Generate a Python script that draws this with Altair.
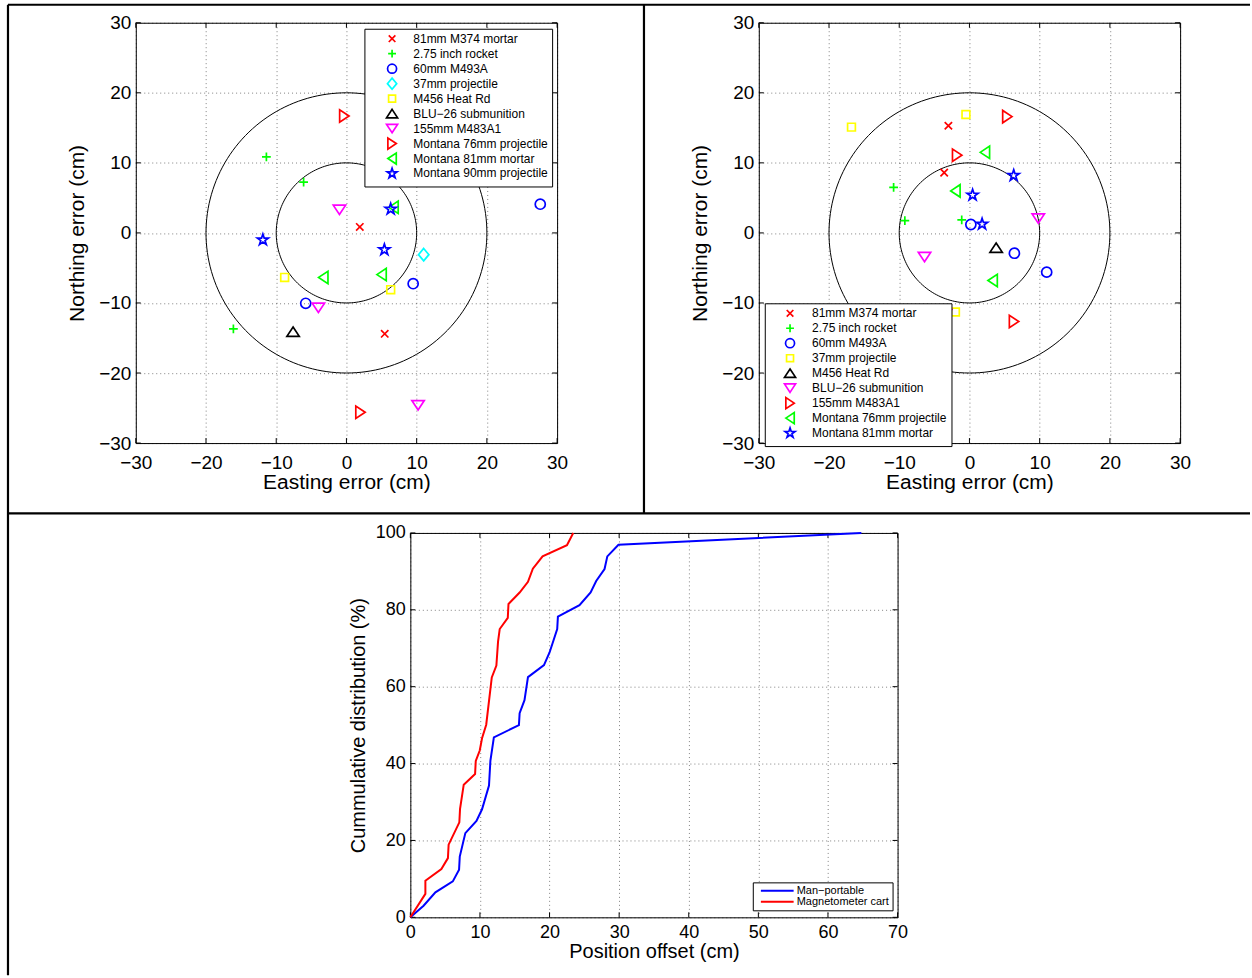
import math

import altair as alt
import pandas as pd

FONT = "Liberation Sans"

# ---------------------------------------------------------------- data
# Survey 1: position errors of the detected ordnance items (cm)
LEFT_LABELS = [
    "81mm M374 mortar", "2.75 inch rocket", "60mm M493A", "37mm projectile",
    "M456 Heat Rd", "BLU\u221226 submunition", "155mm M483A1",
    "Montana 76mm projectile", "Montana 81mm mortar", "Montana 90mm projectile",
]
LEFT_MARKERS = ["x", "plus", "circle", "diamond", "square", "up", "down", "right", "left", "star"]
LEFT_COLORS = ["#FF0000", "#00FF00", "#0000FF", "#00FFFF", "#FFFF00",
               "#000000", "#FF00FF", "#FF0000", "#00FF00", "#0000FF"]
LEFT_EAST = [
    [1.9, 5.45],
    [-11.4, -6.1, -16.1],
    [27.6, 9.5, -5.8],
    [11.0],
    [-8.8, 6.3],
    [-7.6],
    [-1.0, -4.0, 10.2],
    [-0.3, 2.0],
    [-3.3, 5.0, 6.7],
    [-11.9, 6.3, 5.4],
]
LEFT_NORTH = [
    [0.85, -14.4],
    [10.85, 7.25, -13.7],
    [4.1, -7.25, -10.05],
    [-3.1],
    [-6.35, -8.1],
    [-14.1],
    [3.3, -10.7, -24.6],
    [16.7, -25.6],
    [-6.35, -5.95, 3.65],
    [-1.0, 3.4, -2.4],
]

# Survey 2
RIGHT_LABELS = [
    "81mm M374 mortar", "2.75 inch rocket", "60mm M493A", "37mm projectile",
    "M456 Heat Rd", "BLU\u221226 submunition", "155mm M483A1",
    "Montana 76mm projectile", "Montana 81mm mortar",
]
RIGHT_MARKERS = ["x", "plus", "circle", "square", "up", "down", "right", "left", "star"]
RIGHT_COLORS = ["#FF0000", "#00FF00", "#0000FF", "#FFFF00", "#000000",
                "#FF00FF", "#FF0000", "#00FF00", "#0000FF"]
RIGHT_EAST = [
    [-3.0, -3.6],
    [-10.8, -9.2, -1.1],
    [0.2, 6.4, 11.0],
    [-16.8, -0.5, -2.0],
    [3.8],
    [-6.4, 9.8, -3.4],
    [5.4, -1.75, 6.35],
    [2.2, -2.0, 3.3],
    [6.3, 0.45, 1.8],
]
RIGHT_NORTH = [
    [15.3, 8.6],
    [6.5, 1.75, 1.85],
    [1.2, -2.9, -5.6],
    [15.1, 16.9, -11.3],
    [-2.1],
    [-3.45, 2.05, -11.6],
    [16.6, 11.1, -12.65],
    [11.5, 6.0, -6.8],
    [8.2, 5.4, 1.25],
]

RING_RADII = [10, 20]
ERR_TICKS = [-30, -20, -10, 0, 10, 20, 30]

# Cumulative distribution of position offsets
METHODS = ["Man\u2212portable", "Magnetometer cart"]
METHOD_COLORS = ["#0000FF", "#FF0000"]
MAN_OFFSET = [0, 1.9, 3.6, 6.1, 7.0, 7.1, 7.9, 9.5, 10.3, 11.3, 11.5, 12.0, 15.6, 15.7,
              16.4, 16.9, 19.2, 20.0, 21.1, 21.2, 24.3, 25.9, 26.7, 27.9, 28.3, 29.9, 64.8]
MAN_PCT = [0, 3.0, 6.5, 9.35, 12.4, 15.8, 21.9, 25.1, 28.1, 34.3, 40.7, 46.8, 50.0, 53.1,
           56.5, 62.5, 65.6, 68.9, 75.0, 78.2, 81.2, 84.5, 87.5, 90.6, 93.9, 96.9, 100]
CART_OFFSET = [0, 2.16, 2.16, 4.46, 5.4, 5.5, 7.04, 7.14, 7.67, 9.3, 9.4, 9.97, 10.3,
               10.9, 11.7, 12.36, 12.6, 12.84, 14.0, 14.1, 15.7, 16.9, 17.6, 19.0, 22.5, 23.4]
CART_PCT = [0, 6.1, 9.5, 12.55, 15.4, 18.9, 24.7, 28.2, 34.5, 37.3, 40.7, 43.4, 46.6,
            50.1, 62.4, 65.5, 71.7, 75.0, 77.9, 81.5, 84.5, 87.3, 90.7, 93.9, 96.8, 100]
OFFSET_TICKS = [0, 10, 20, 30, 40, 50, 60, 70]
PCT_TICKS = [0, 20, 40, 60, 80, 100]


# ---------------------------------------------------------------- marker outlines
def star_path(outer=1.17, inner=0.45):
    pts = []
    for k in range(10):
        r = outer if k % 2 == 0 else inner
        a = math.radians(-90 + 36 * k)
        pts.append(f"{r * math.cos(a):.3f},{r * math.sin(a):.3f}")
    return "M" + "L".join(pts) + "Z"


# outlines in symbol units: 1 unit = 5 px at MARKER_SIZE = 100
MARKER_OUTLINES = {
    "x": "M-0.74,-0.74L0.74,0.74M-0.74,0.74L0.74,-0.74",
    "plus": "M-0.88,0L0.88,0M0,-0.88L0,0.88",
    "circle": "M1.01,0A1.01,1.01 0 1 1 -1.01,0A1.01,1.01 0 1 1 1.01,0Z",
    "diamond": "M0,-1.24L1.04,0L0,1.24L-1.04,0Z",
    "square": "M-0.78,-0.78L0.78,-0.78L0.78,0.78L-0.78,0.78Z",
    "up": "M0,-0.94L1.24,0.94L-1.24,0.94Z",
    "down": "M0,0.94L1.24,-0.94L-1.24,-0.94Z",
    "right": "M0.94,0L-0.94,-1.24L-0.94,1.24Z",
    "left": "M-0.94,0L0.94,-1.24L0.94,1.24Z",
    "star": star_path(),
}
# two bare move-to points give every outline the same extent, so legend rows
# get one common height
MARKER_PATHS = {k: v + "M-1.25,-1.25M1.25,1.25" for k, v in MARKER_OUTLINES.items()}
MARKER_SIZE = 100
MARKER_STROKE = 1.7
LEGEND_SYMBOL_SIZE = 80

W_TOP, H_TOP = 422, 421
W_BOT, H_BOT = 488, 385
TICK_LEN = 5


def scatter_panel(labels, markers, colors, east, north, leg_x, leg_y, sym_off, lab_off, row_pad):
    rows = []
    for lab, xs, ys in zip(labels, east, north):
        for x, y in zip(xs, ys):
            rows.append({"series": lab, "east": x, "north": y})
    df = pd.DataFrame(rows)

    xscale = alt.Scale(domain=[-30, 30], nice=False, zero=False)
    yscale = alt.Scale(domain=[-30, 30], nice=False, zero=False)
    xaxis = alt.Axis(values=ERR_TICKS, title="Easting error (cm)", labelFontSize=19,
                     titleFontSize=21, labelPadding=10, titlePadding=0)
    yaxis = alt.Axis(values=ERR_TICKS, title="Northing error (cm)", labelFontSize=19,
                     titleFontSize=21, labelPadding=5, titlePadding=11)

    def X(f):
        return alt.X(f, scale=xscale, axis=xaxis)

    def Y(f):
        return alt.Y(f, scale=yscale, axis=yaxis)

    ring_rows = []
    for r in RING_RADII:
        for k in range(0, 361, 2):
            a = math.radians(k)
            ring_rows.append({"r": r, "k": k, "east": r * math.cos(a), "north": r * math.sin(a)})
    rings = alt.Chart(pd.DataFrame(ring_rows)).mark_line(color="black", strokeWidth=1).encode(
        x=X("east:Q"), y=Y("north:Q"), detail="r:N", order="k:Q"
    )

    legend = alt.Legend(
        title=None, orient="none", legendX=leg_x, legendY=leg_y,
        fillColor="white", strokeColor="black", padding=4, rowPadding=row_pad,
        symbolSize=LEGEND_SYMBOL_SIZE, symbolStrokeWidth=MARKER_STROKE,
        symbolOffset=sym_off, labelOffset=lab_off,
        labelFont=FONT, labelFontSize=12, labelColor="black", labelLimit=400,
    )
    points = alt.Chart(df).mark_point(
        filled=False, size=MARKER_SIZE, strokeWidth=MARKER_STROKE, opacity=1
    ).encode(
        x=X("east:Q"),
        y=Y("north:Q"),
        shape=alt.Shape("series:N", sort=labels,
                        scale=alt.Scale(domain=labels, range=[MARKER_PATHS[m] for m in markers]),
                        legend=legend),
        color=alt.Color("series:N", sort=labels,
                        scale=alt.Scale(domain=labels, range=colors), legend=legend),
    )

    tdf = pd.DataFrame({"v": ERR_TICKS})
    tick_base = alt.Chart(tdf).mark_rule(color="black", strokeWidth=1)
    ticks = [
        tick_base.encode(x=X("v:Q"), y=alt.value(H_TOP), y2=alt.value(H_TOP - TICK_LEN)),
        tick_base.encode(x=X("v:Q"), y=alt.value(0), y2=alt.value(TICK_LEN)),
        tick_base.encode(y=Y("v:Q"), x=alt.value(0), x2=alt.value(TICK_LEN)),
        tick_base.encode(y=Y("v:Q"), x=alt.value(W_TOP), x2=alt.value(W_TOP - TICK_LEN)),
    ]
    return [rings, *ticks, points]


left_layers = scatter_panel(LEFT_LABELS, LEFT_MARKERS, LEFT_COLORS, LEFT_EAST, LEFT_NORTH,
                            229, 6, 17.7, 15.3, -6.7)
right_layers = scatter_panel(RIGHT_LABELS, RIGHT_MARKERS, RIGHT_COLORS, RIGHT_EAST, RIGHT_NORTH,
                             6, 281, 15.3, 16, -6.5)

# panel separators of the figure sheet
one = pd.DataFrame({"z": [0]})
frame_rule = alt.Chart(one).mark_rule(color="black", strokeWidth=2.2)
frame = [
    frame_rule.encode(x=alt.value(-128), x2=alt.value(1116), y=alt.value(-18)),
    frame_rule.encode(x=alt.value(-128), y=alt.value(-18), y2=alt.value(954)),
    frame_rule.encode(x=alt.value(509), y=alt.value(-18), y2=alt.value(491.5)),
    frame_rule.encode(x=alt.value(-128), x2=alt.value(1116), y=alt.value(491.5)),
]

left = alt.layer(*frame, *left_layers).properties(width=W_TOP, height=H_TOP)
right = alt.layer(*right_layers).properties(width=W_TOP, height=H_TOP)

# ---------------------------------------------------------------- CDF panel
cdf_rows = []
for name, xs, ys in [(METHODS[0], MAN_OFFSET, MAN_PCT), (METHODS[1], CART_OFFSET, CART_PCT)]:
    for i, (x, y) in enumerate(zip(xs, ys)):
        cdf_rows.append({"method": name, "offset": x, "pct": y, "i": i})
cdf_df = pd.DataFrame(cdf_rows)

bx_scale = alt.Scale(domain=[0, 70], nice=False, zero=False)
by_scale = alt.Scale(domain=[0, 100], nice=False, zero=False)
bx_axis = alt.Axis(values=OFFSET_TICKS, title="Position offset (cm)", labelFontSize=18,
                   titleFontSize=20, labelPadding=6, titlePadding=0)
by_axis = alt.Axis(values=PCT_TICKS, title="Cummulative distribution (%)", labelFontSize=18,
                   titleFontSize=20, labelPadding=5, titlePadding=7)


def BX(f):
    return alt.X(f, scale=bx_scale, axis=bx_axis)


def BY(f):
    return alt.Y(f, scale=by_scale, axis=by_axis)


cdf_legend = alt.Legend(
    title=None, orient="none", legendX=343, legendY=350,
    fillColor="white", strokeColor="black", padding=3, rowPadding=-1.5,
    symbolType="M-4.1,0L4.1,0", symbolSize=64, symbolStrokeWidth=2,
    symbolOffset=16, labelOffset=14,
    labelFont=FONT, labelFontSize=11, labelColor="black", labelLimit=400,
)
cdf_lines = alt.Chart(cdf_df).mark_line(strokeWidth=2).encode(
    x=BX("offset:Q"),
    y=BY("pct:Q"),
    color=alt.Color("method:N", sort=METHODS,
                    scale=alt.Scale(domain=METHODS, range=METHOD_COLORS), legend=cdf_legend),
    order="i:Q",
)
bt_x = alt.Chart(pd.DataFrame({"v": OFFSET_TICKS})).mark_rule(color="black", strokeWidth=1)
bt_y = alt.Chart(pd.DataFrame({"v": PCT_TICKS})).mark_rule(color="black", strokeWidth=1)
cdf_ticks = [
    bt_x.encode(x=BX("v:Q"), y=alt.value(H_BOT), y2=alt.value(H_BOT - TICK_LEN)),
    bt_x.encode(x=BX("v:Q"), y=alt.value(0), y2=alt.value(TICK_LEN)),
    bt_y.encode(y=BY("v:Q"), x=alt.value(0), x2=alt.value(TICK_LEN)),
    bt_y.encode(y=BY("v:Q"), x=alt.value(W_BOT), x2=alt.value(W_BOT - TICK_LEN)),
]
cdf = alt.layer(*cdf_ticks, cdf_lines).properties(width=W_BOT, height=H_BOT)

# empty cell that pushes the CDF panel to the right in the second row
spacer = alt.Chart(one).mark_point(opacity=0).encode(
    x=alt.value(0), y=alt.value(0)
).properties(width=1, height=1, view=alt.ViewBackground(stroke="transparent"))

top_row = alt.hconcat(left, right, spacing=202, bounds="flush").resolve_scale(
    color="independent", shape="independent")
bottom_row = alt.hconcat(spacer, cdf, spacing=274, bounds="flush").resolve_scale(
    color="independent", shape="independent")

# with flush bounds a nested row contributes no height, so the spacing
# carries the full distance from the top of row one to the top of row two
chart = (
    alt.vconcat(top_row, bottom_row, spacing=H_TOP + 90, bounds="flush")
    .resolve_scale(color="independent", shape="independent")
    .properties(padding={"left": 6, "top": 2, "right": 0, "bottom": 0}, background="white")
    .configure_view(stroke="black", strokeWidth=1)
    .configure_axis(
        labelFont=FONT, titleFont=FONT, labelColor="black", titleColor="black",
        titleFontWeight="normal", domain=False, ticks=False, tickSize=0,
        grid=True, gridColor="#000000", gridOpacity=0.5, gridDash=[1, 3], gridWidth=1,
        labelFlush=False, labelOverlap=False,
    )
)

chart.save("out.html", embed_options={"renderer": "svg", "actions": False})
